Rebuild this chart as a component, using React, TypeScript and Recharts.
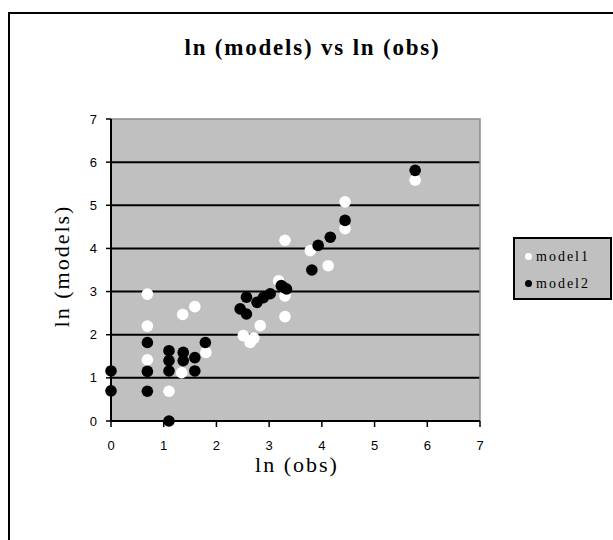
import React from 'react';
import { ScatterChart, Scatter, XAxis, YAxis, CartesianGrid, ReferenceArea } from 'recharts';

// ln(obs) / ln(model) pairs
const model1Obs = [0.69, 0.69, 0.69, 1.1, 1.36, 1.59, 1.34, 1.8, 2.51, 2.64, 2.71, 2.83, 3.3, 3.3, 3.18, 3.3, 3.78, 4.12, 4.44, 4.44, 5.77];
const model1Pred = [2.94, 2.2, 1.42, 0.69, 2.47, 2.65, 1.12, 1.59, 1.98, 1.82, 1.92, 2.21, 2.42, 2.9, 3.25, 4.19, 3.95, 3.6, 4.46, 5.08, 5.58];

const model2Obs = [0, 0, 0.69, 0.69, 0.69, 1.1, 1.1, 1.1, 1.1, 1.37, 1.37, 1.59, 1.59, 1.79, 2.45, 2.57, 2.57, 2.77, 2.89, 3.02, 3.23, 3.33, 3.27, 3.81, 3.93, 4.16, 4.44, 5.77];
const model2Pred = [1.16, 0.7, 1.82, 1.15, 0.69, 0, 1.63, 1.4, 1.16, 1.59, 1.4, 1.47, 1.16, 1.82, 2.6, 2.48, 2.87, 2.75, 2.86, 2.95, 3.14, 3.06, 3.1, 3.5, 4.07, 4.26, 4.65, 5.81];

const axisTicks = [0, 1, 2, 3, 4, 5, 6, 7];
const gridValues = [1, 2, 3, 4, 5, 6];

const series = [
  { name: 'model1', color: '#FFFFFF', data: model1Obs.map((x, i) => ({ x, y: model1Pred[i] })) },
  { name: 'model2', color: '#000000', data: model2Obs.map((x, i) => ({ x, y: model2Pred[i] })) },
];

const serif = '"Liberation Serif", "Times New Roman", serif';
const tickStyle = { fontFamily: '"Liberation Sans", Arial, sans-serif', fontSize: 13, fill: '#000' };

const dot = (color: string) => (props: any) => (
  <circle cx={props.cx} cy={props.cy} r={5.8} fill={color} stroke="none" />
);

export default function App() {
  return (
    <div>
      {/* chart area border, runs off the right and bottom of the picture */}
      <div style={{ position: 'absolute', left: 8, top: 12, width: 605, height: 528, borderLeft: '2px solid #000', borderTop: '2px solid #000', boxSizing: 'border-box' }} />

      <div style={{ position: 'absolute', left: 0, top: 0 }}>
        <ScatterChart width={613} height={540} margin={{ top: 119, right: 133, bottom: 89, left: 71 }}>
          <CartesianGrid vertical={false} horizontalValues={gridValues} stroke="#000" strokeWidth={2} fill="#C0C0C0" fillOpacity={1} />
          <ReferenceArea x1={0} x2={7} y1={0} y2={7} fill="none" stroke="#8C8C8C" strokeWidth={1.5} ifOverflow="visible" />
          <XAxis
            type="number"
            dataKey="x"
            domain={[0, 7]}
            ticks={axisTicks}
            height={30}
            tickSize={6}
            tickMargin={14}
            tick={tickStyle}
            axisLine={{ stroke: '#000', strokeWidth: 2 }}
            tickLine={{ stroke: '#000', strokeWidth: 1.5 }}
          />
          <YAxis
            type="number"
            dataKey="y"
            domain={[0, 7]}
            ticks={axisTicks}
            width={40}
            tickSize={5}
            tickMargin={9}
            tick={tickStyle}
            axisLine={{ stroke: '#000', strokeWidth: 2 }}
            tickLine={{ stroke: '#000', strokeWidth: 1.5 }}
          />
          {series.map(s => (
            <Scatter key={s.name} name={s.name} data={s.data} shape={dot(s.color)} isAnimationActive={false} />
          ))}
        </ScatterChart>
      </div>

      <div style={{ position: 'absolute', left: 0, width: 625, top: 34, textAlign: 'center', fontFamily: serif, fontWeight: 'bold', fontSize: 23, letterSpacing: 1.8, lineHeight: '28px' }}>
        ln (models) vs ln (obs)
      </div>

      <div style={{ position: 'absolute', left: 0, width: 594, top: 451, textAlign: 'center', fontFamily: serif, fontSize: 22, letterSpacing: 2, lineHeight: '28px' }}>
        ln (obs)
      </div>

      <div style={{ position: 'absolute', left: 62, top: 266, width: 0, height: 0 }}>
        <div style={{ position: 'absolute', left: -100, top: -14, width: 200, textAlign: 'center', transform: 'rotate(-90deg)', fontFamily: serif, fontSize: 22, letterSpacing: 2, lineHeight: '28px', whiteSpace: 'nowrap' }}>
          ln (models)
        </div>
      </div>

      <div style={{ position: 'absolute', left: 513, top: 237, width: 99, height: 63, boxSizing: 'border-box', border: '2px solid #000', background: '#C0C0C0', padding: '4px 0 0 10px' }}>
        {series.map(s => (
          <div key={s.name} style={{ display: 'flex', alignItems: 'center', height: 27, fontFamily: serif, fontSize: 14, letterSpacing: 2 }}>
            <span style={{ display: 'inline-block', width: 7, height: 7, borderRadius: '50%', background: s.color, marginRight: 4 }} />
            {s.name}
          </div>
        ))}
      </div>
    </div>
  );
}
